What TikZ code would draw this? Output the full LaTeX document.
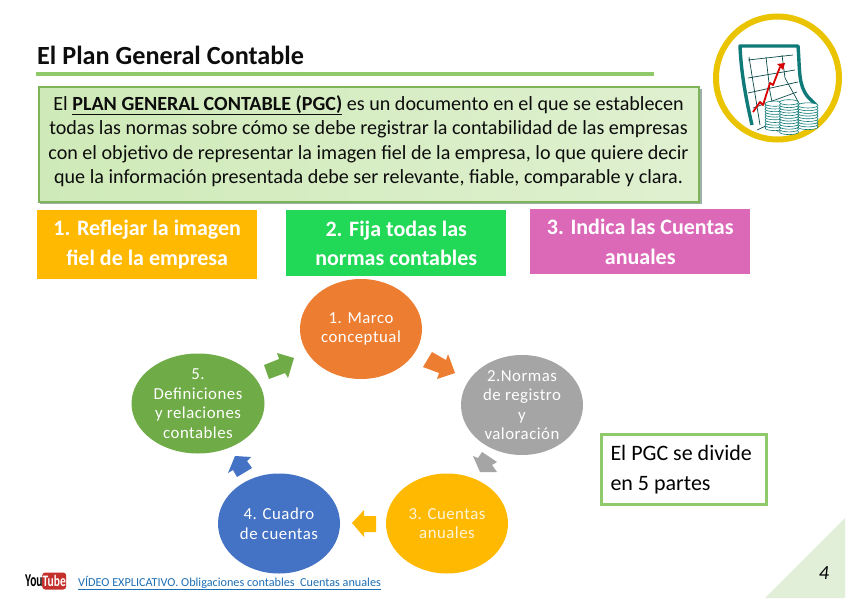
\documentclass[tikz,border=0pt]{standalone}
\usepackage{fontspec}
\setmainfont{Carlito}
\newfontfamily\spaced[LetterSpace=3]{Carlito}
\definecolor{rulegreen}{HTML}{8FC96A}
\definecolor{boxleft}{HTML}{CFEAB8}
\definecolor{boxright}{HTML}{DFF0D0}
\definecolor{boxline}{HTML}{7DB45A}
\definecolor{cOrange}{HTML}{ED7D31}
\definecolor{cGray}{HTML}{A5A5A5}
\definecolor{cYellow}{HTML}{FFB900}
\definecolor{cBlue}{HTML}{4472C4}
\definecolor{cGreen}{HTML}{6FAB46}
\definecolor{teal1}{HTML}{0F7A78}
\definecolor{ring}{HTML}{EAC400}
\definecolor{bannerGreen}{HTML}{21D957}
\definecolor{bannerPink}{HTML}{DB69B8}
\definecolor{cornerGreen}{HTML}{E1EFD8}
\definecolor{linkBlue}{HTML}{1F6FB5}
\definecolor{ytRed}{HTML}{C4302B}
\definecolor{shadowTone}{HTML}{9DB0A8}
\tikzset{
 x=1pt,y=-1pt,
 bubble/.style={ellipse,minimum width=#1,minimum height=100pt,inner sep=0pt,align=center,text=white,
   font=\spaced\fontsize{16.8}{19.5}\selectfont},
 banner/.style={minimum width=220pt,inner sep=0pt,align=center,text=white,
   font=\fontsize{22}{29.5}\selectfont\bfseries},
 blockarrow/.style={fill=#1,draw=none},
 coinline/.style={draw=teal1,line width=.6pt},
 gridline/.style={draw=teal1!60!black,line width=.7pt},
}
\usetikzlibrary{shapes.geometric}
\begin{document}
\begin{tikzpicture}
\useasboundingbox[fill=white] (0,0) rectangle (848,599);
% title
\node[anchor=west,inner sep=0pt,font=\fontsize{26.2}{30}\selectfont\bfseries,text=black!95] (title) at (37,55) {El Plan General Contable};
\fill[rulegreen] (36,72.5) rectangle (654,76);
% intro box
\fill[shadowTone] (40,89) rectangle (701.5,204);
\node[draw=boxline,line width=2.2pt,left color=boxleft,right color=boxright,minimum width=660pt,minimum height=115pt,inner sep=0pt,anchor=north west] (intro) at (38,86) {};
\node[align=center,inner sep=0pt,font=\fontsize{20.1}{24.4}\selectfont,text=black!95] (introtext) at (368.5,141)
 {El \textbf{\underline{PLAN GENERAL CONTABLE (PGC)}} es un documento en el que se establecen\\
  todas las normas sobre cómo se debe registrar la contabilidad de las empresas\\
  con el objetivo de representar la imagen fiel de la empresa, lo que quiere decir\\
  que la información presentada debe ser relevante, fiable, comparable y clara.};
% banners
\node[banner,fill=cYellow,anchor=north west,minimum height=69pt] (b1) at (37,210) {\raisebox{-1pt}{1. Reflejar la imagen}\\\raisebox{-1pt}{fiel de la empresa}};
\node[banner,fill=bannerGreen,anchor=north west,minimum height=66pt] (b2) at (286,210) {2. Fija todas las\\normas contables};
\node[banner,fill=bannerPink,anchor=north west,minimum height=65pt] (b3) at (530,209) {3. Indica las Cuentas\\anuales};
% cycle
\node[bubble=122pt,fill=cOrange] (n1) at (361,329) {1. Marco\\conceptual};
\node[bubble=122pt,fill=cGray] (n2) at (522,405) {2.Normas\\de registro\\y\\valoración};
\node[bubble=122pt,fill=cYellow,text=white!85!cYellow] (n3) at (447,523.5) {3. Cuentas\\anuales};
\node[bubble=122pt,fill=cBlue] (n4) at (279,523.5) {4. Cuadro\\de cuentas};
\node[bubble=133pt,fill=cGreen] (n5) at (198,403.5) {5.\\Definiciones\\y relaciones\\contables};
% block arrows
\fill[blockarrow=cOrange] (432,352)--(446,360)--(448,354)--(455,373)--(437,379)--(439,373)--(423,367)--cycle;
\fill[blockarrow=cGray] (482,452)--(497,462)--(492,465)--(497,472)--(480,472)--(473,456)--(478,458)--cycle;
\fill[blockarrow=cYellow] (352,523)--(364,510)--(364,516)--(376,516)--(376,532)--(364,532)--(364,537)--cycle;
\fill[blockarrow=cBlue] (237,477)--(252,468)--(247,461)--(251,457)--(235,456)--(228,473)--(233,470)--cycle;
\fill[blockarrow=cGreen] (264,365)--(269,379)--(285,373)--(288,378)--(294,358)--(277,353)--(279,359)--cycle;
% side note
\node[draw=rulegreen,line width=3pt,fill=white,minimum width=165pt,minimum height=70pt,anchor=north west,inner sep=0pt,inner xsep=9pt,align=flush left,text width=147pt,
  font=\fontsize{22}{29.5}\selectfont,text=black] (note) at (600,433) {El PGC se divide\\en 5 partes};
% corner
\fill[cornerGreen] (845,518)--(845,598)--(765,598)--cycle;
\node[font=\fontsize{20}{22}\selectfont\itshape,text=black,inner sep=0pt] (page) at (824,573) {4};
% footer link
\node[anchor=west,inner sep=0pt,font=\fontsize{12.2}{14}\selectfont,text=linkBlue] (link) at (78,583) {\underline{VÍDEO EXPLICATIVO. Obligaciones contables\ \ Cuentas anuales}};
% youtube
\node[anchor=west,inner sep=0pt,font=\fontsize{18}{18}\selectfont\bfseries,text=black] (you) at (25,581) {\scalebox{.64}[1]{You}};
\node[anchor=west,fill=ytRed,rounded corners=3pt,inner sep=0pt,minimum height=17pt,minimum width=24pt,
  font=\fontsize{16}{16}\selectfont\bfseries,text=white] (tube) at (42,581) {\scalebox{.72}[1]{Tube}};
% icon
\draw[ring,line width=6pt] (777.5,78) circle (61.5);
\foreach \a/\b/\c/\d in {749/57/760/125, 748/60/793/55, 748/78/795/70, 748/93/798/82, 753/108/797/92, 757/130/768/125}{\draw[gridline] (\a,\b)--(\c,\d);}
\draw[gridline] (766,57)--(770,92)--(778,132);
\draw[gridline] (782,55)--(785,78)--(800,105);
\draw[teal1,line width=3.4pt,line join=round] (752,125) .. controls (745,95) and (741,70) .. (740,46) -- (798,46) .. controls (800,70) and (798,85) .. (808,97) -- (816,105);
\draw[red!85!black,line width=1.8pt,line join=round] (753,112)--(760,102)--(763,105)--(770,83)--(773,85)--(780,67);
\fill[red!85!black] (777,64)--(785,63)--(783,70)--cycle;
\foreach \x/\b/\w/\n in {775/128/10/9, 808/127/10/8, 789/132/9.5/11}{
  \foreach \i in {0,...,\n}{\draw[coinline,fill=white] (\x,\b-\i*2.7) ellipse[x radius=\w,y radius=2.6];}
}
\end{tikzpicture}
\end{document}
